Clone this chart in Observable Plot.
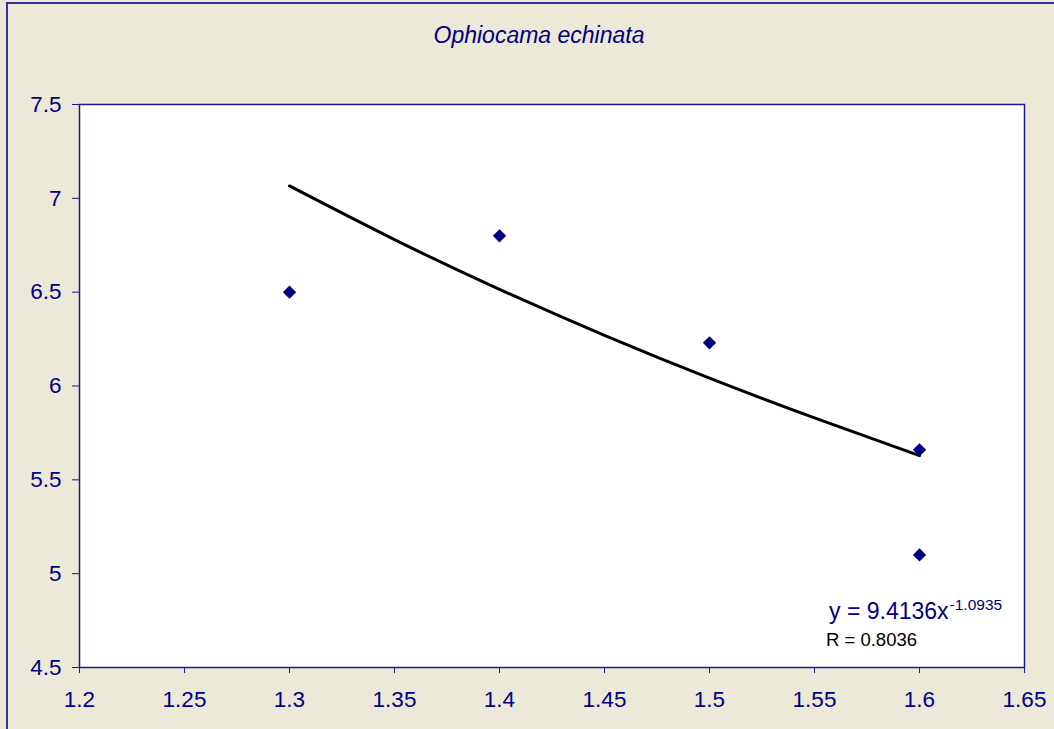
<!DOCTYPE html>
<html>
<head>
<meta charset="utf-8">
<script src="https://cdn.jsdelivr.net/npm/d3@7"></script>
<script src="https://cdn.jsdelivr.net/npm/@observablehq/plot@0.6"></script>
<style>
  html, body { margin: 0; padding: 0; background: #ECE9D8; }
  #wrap { position: relative; width: 1054px; height: 729px; background: #ECE9D8; overflow: hidden; }
  #outer { position: absolute; left: 6px; top: 2px; width: 1100px; height: 800px;
           border-top: 2px solid #33339A; border-left: 2px solid #33339A; }
  #chart { position: absolute; left: 0; top: 0; }
</style>
</head>
<body>
<div id="wrap"><div id="outer"></div><div id="chart"></div></div>
<script>
const titleText = "Ophiocama echinata";
const pointX = [1.3, 1.4, 1.5, 1.6, 1.6];
const pointY = [6.5, 6.8, 6.23, 5.66, 5.1];
// trendline
const trendX = [1.3, 1.35, 1.4, 1.45, 1.5, 1.55, 1.6];
const trendY = [7.066, 6.78, 6.515, 6.27, 6.042, 5.83, 5.629];
const xTicks = [1.2, 1.25, 1.3, 1.35, 1.4, 1.45, 1.5, 1.55, 1.6, 1.65];
const yTicks = [4.5, 5, 5.5, 6, 6.5, 7, 7.5];
const eqMain = "y = 9.4136x";
const eqExp = "-1.0935";
const rText = "R = 0.8036";

const points = pointX.map((x, i) => ({x, y: pointY[i]}));
const trend = trendX.map((x, i) => ({x, y: trendY[i]}));

const navy = "#000080";
const fontFam = "'Liberation Sans', Arial, sans-serif";

const plot = Plot.plot({
  width: 1054,
  height: 729,
  marginLeft: 79,
  marginRight: 30,
  marginTop: 104,
  marginBottom: 62,
  style: { background: "transparent", fontFamily: fontFam, fontSize: "22.5px", color: navy, overflow: "visible" },
  x: { domain: [1.2, 1.65], ticks: xTicks, tickFormat: d => String(d), label: null },
  y: { domain: [4.5, 7.5], ticks: yTicks, tickFormat: d => String(d), label: null },
  marks: [
    Plot.rect([0], {x1: 1.2, x2: 1.65, y1: 4.5, y2: 7.5, fill: "white"}),
    Plot.frame({stroke: "#1A1A8C", strokeWidth: 1.5}),
    Plot.axisX({ticks: xTicks, tickSize: 6, tickPadding: 18, stroke: "#1A1A8C", fill: navy, fontSize: 22.5, tickFormat: d => String(d), label: null}),
    Plot.axisY({ticks: yTicks, tickSize: 7, tickPadding: 11, stroke: "#1A1A8C", fill: navy, fontSize: 22.5, tickFormat: d => String(d), label: null}),
    Plot.line(trend, {x: "x", y: "y", stroke: "black", strokeWidth: 3, curve: "natural"}),
    Plot.dot(points, {x: "x", y: "y", symbol: "diamond2", r: 6, fill: navy, stroke: "none"}),
    Plot.text([titleText], {frameAnchor: "top", dy: -62, dx: -13, text: d => d, fill: navy, fontSize: 23, fontStyle: "italic", lineAnchor: "bottom"}),
  ]
});
document.getElementById("chart").appendChild(plot);

// Equation annotation placed relative to the plot scales
const sx = plot.scale("x"), sy = plot.scale("y");
const svg = d3.select(plot);
const g = svg.append("g").attr("font-family", fontFam).attr("text-anchor", "start");
const t = g.append("text")
  .attr("x", sx.apply(1.6) - 90).attr("y", sy.apply(4.5) - 48)
  .attr("fill", navy).attr("font-size", 23);
t.append("tspan").text(eqMain);
t.append("tspan").attr("font-size", 15.5).attr("dy", -9).attr("dx", 1).text(eqExp);
g.append("text")
  .attr("x", sx.apply(1.6) - 93).attr("y", sy.apply(4.5) - 21)
  .attr("fill", "black").attr("font-size", 18.5).text(rText);
</script>
</body>
</html>
